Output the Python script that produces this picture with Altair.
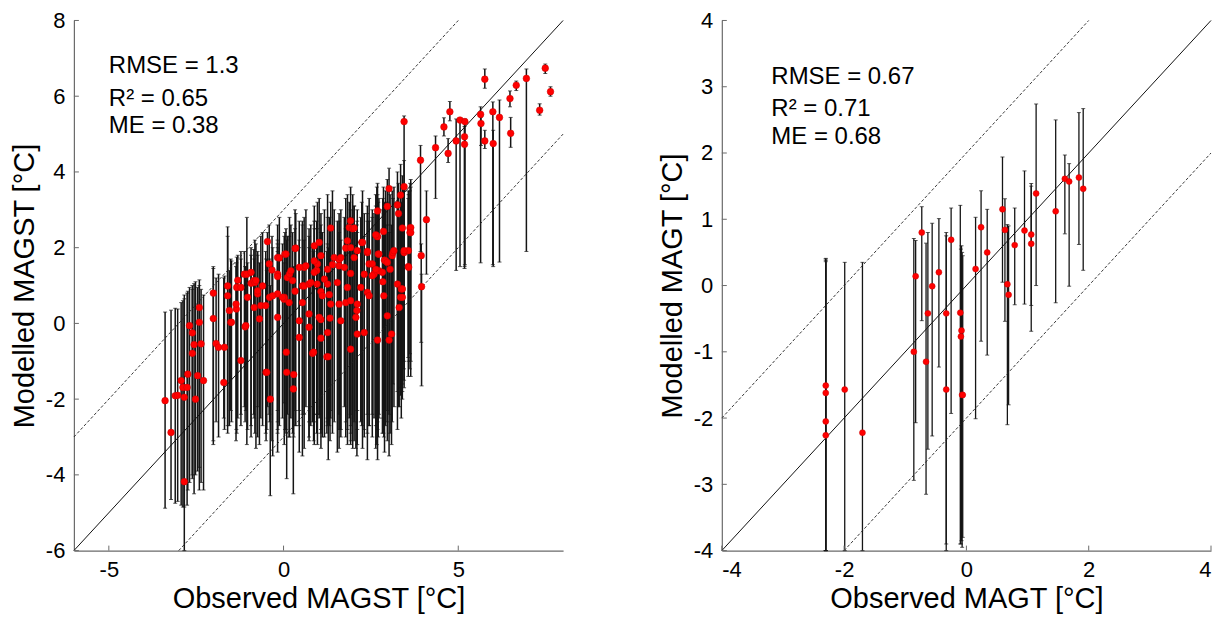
import altair as alt
import pandas as pd

FONT = "Liberation Sans"

# ---------------- Left panel: MAGST (observed, modelled, ensemble low, ensemble high) ----------------
mg_obs = [-3.39, -3.22, -3.10, -3.03, -2.93, -2.88, -2.84, -2.84, -2.76, -2.74,
          -2.69, -2.61, -2.61, -2.56, -2.52, -2.46, -2.41, -2.41, -2.36, -2.29,
          -2.01, -2.01, -1.93, -1.86, -1.71, -1.69, -1.60, -1.60, -1.51, -1.49,
          -1.35, -1.34, -1.31, -1.22, -1.12, -1.10, -1.05, -0.93, -0.93, -0.85,
          -0.82, -0.74, -0.65, -0.50, -0.48, -0.46, -0.40, -0.38, -0.17, -0.17,
          -0.17, -0.12, 0.02, 0.02, 0.04, 0.07, 0.08, 0.09, 0.11, 0.17,
          0.21, 0.28, 0.29, 0.33, 0.33, 0.35, 0.45, 0.54, 0.59, 0.64,
          0.73, 0.83, 0.86, 0.88, 0.95, 0.96, 0.97, 1.02, 1.07, 1.07,
          1.07, 1.17, 1.24, 1.26, 1.28, 1.31, 1.33, 1.35, 1.40, 1.45,
          1.59, 1.59, 1.59, 1.74, 1.78, 1.78, 1.83, 1.83, 1.88, 1.92,
          1.92, 1.92, 1.92, 1.98, 2.02, 2.10, 2.11, 2.11, 2.11, 2.24,
          2.26, 2.40, 2.40, 2.40, 2.45, 2.54, 2.59, 2.67, 2.69, 2.69,
          2.69, 2.71, 2.73, 2.86, 2.84, 2.89, 2.92, 2.97, 2.97, 3.02,
          3.02, 3.05, 3.09, 3.11, 3.13, 3.26, 3.26, 3.29, 3.35, 3.35,
          3.37, 3.40, 3.40, 3.40, 3.45, 3.45, 3.45, 3.57, 3.57, 3.58,
          3.62, 3.62, 3.64, 3.64, 3.92, 3.94, 3.95, 4.09, 4.35, 4.59,
          4.71, 4.76, 4.94, 5.05, 5.18, 5.18, 5.19, 5.64, 5.65, 5.76,
          5.76, 5.99, 6.00, 6.18, 6.48, 6.50, 6.66, 6.95, 7.33, 7.49,
          7.64,
          -0.41, -0.33, -0.17, 0.26, 0.45, 0.59, 0.73, -1.22, -0.79, -0.60,
          -0.74, -0.31, -0.03, -0.51, -1.03, -1.36, -0.84, 0.16, 0.54, -1.55,
          -0.69, -0.17, 0.45, -1.08, 2.64, 2.02, 2.73, 3.16, 1.07, 0.88,
          1.64, 1.26, 0.88, 2.31, 2.64, 2.54, 2.83, 0.78, 1.54, 2.21,
          1.11, 1.35, 1.92, 2.45, 2.87, 1.64, 2.07, 2.97, 3.31, 0.73,
          1.26, 2.31, 1.02, 3.45]
mg_mod = [-2.04, -2.88, -1.91, -1.90, -1.51, -1.69, -1.95, -4.18, -1.69, -1.34,
          -0.06, -0.25, -0.79, -0.56, -2.00, -1.38, 0.42, 0.03, -0.54, -1.51,
          0.80, 0.13, -0.53, -0.63, -1.56, -0.63, 0.99, 0.73, 0.03, 0.03,
          0.38, 0.95, 1.14, -0.98, 1.30, -0.09, 1.30, 1.35, 1.06, 1.13,
          1.08, 0.78, 0.47, -1.29, -1.29, 2.16, 0.69, -2.00, 1.74, 1.30,
          0.78, 1.73, 0.64, 0.69, 1.83, 1.83, -0.76, -1.29, 1.21, 1.30,
          1.39, -1.73, -1.35, 1.98, 0.85, 1.99, -0.37, 0.99, 1.48, 1.52,
          0.25, -0.79, -0.76, 2.05, 1.40, 1.04, 1.57, 2.14, 0.10, -0.39,
          0.84, 1.17, -0.88, 1.04, -0.88, 0.76, 0.14, 2.52, 1.55, 1.74,
          1.69, 1.52, 0.51, 1.48, 1.99, 0.55, 2.18, 0.95, 2.53, 2.71,
          2.00, 1.32, -0.68, 2.50, 2.52, 0.34, 1.92, 0.51, -0.28, 2.14,
          2.14, 1.87, 1.90, 0.82, 1.57, 1.57, 1.30, 2.31, 2.97, 2.29,
          -0.44, 1.83, 1.39, 2.43, 1.10, 1.67, 1.65, 3.09, 1.61, 3.56,
          -0.44, 1.43, -0.28, 1.79, 1.87, 3.13, 1.04, 2.90, 3.39, 0.69,
          0.91, 2.52, 0.69, 0.91, 5.33, 3.61, 1.87, 1.92, 1.50, 1.48,
          2.52, 2.40, 2.53, 2.40, 4.31, 1.79, 0.97, 2.74, 4.64, 5.19,
          4.49, 5.59, 4.82, 5.37, 4.93, 4.73, 5.33, 5.52, 5.28, 6.45,
          4.82, 5.59, 4.75, 5.44, 5.94, 5.02, 6.29, 6.47, 5.63, 6.74,
          6.12,
          1.57, 1.41, 1.24, 1.13, 1.48, 0.99, 1.04, 0.95, 1.13, 0.99,
          0.86, 0.73, 0.69, 0.47, 0.69, 0.51, 0.42, 0.55, 0.55, 0.34,
          0.12, 0.16, 0.07, -0.06, 2.34, 1.74, 1.83, 1.92, 1.79, 1.65,
          1.74, 1.43, 1.35, 1.30, 1.43, 1.26, 1.35, 1.08, 1.08, 0.95,
          0.73, 0.51, 0.60, 0.73, 0.73, 0.07, 0.16, 0.20, 0.42, -0.10,
          -0.24, -0.24, 0.16, 1.92]
mg_lo = [-4.88, -4.65, -4.75, -4.70, -4.80, -4.85, -6.00, -4.85, -4.80, -4.40,
         -4.20, -4.00, -4.10, -4.50, -4.00, -3.90, -4.40, -3.80, -4.20, -4.40,
         -3.10, -3.20, -2.60, -3.00, -2.50, -2.80, -2.70, -2.90, -2.30, -2.60,
         -2.80, -2.90, -2.50, -2.70, -2.20, -2.60, -3.20, -2.70, -3.00, -2.40,
         -2.90, -3.00, -2.50, -3.10, -2.80, -2.20, -2.60, -4.55, -2.30, -2.90,
         -3.40, -2.70, -3.20, -2.10, -2.80, -2.90, -2.80, -4.10, -2.40, -3.00,
         -2.50, -4.50, -3.00, -2.30, -2.70, -2.70, -2.70, -3.50, -2.40, -2.20,
         -3.00, -2.60, -3.10, -2.60, -2.90, -2.40, -3.20, -2.50, -3.30, -2.80,
         -2.20, -3.00, -2.90, -2.50, -3.60, -2.70, -3.10, -2.30, -2.90, -2.60,
         -3.30, -2.40, -2.80, -2.20, -3.00, -2.60, -2.80, -3.20, -2.50, -2.40,
         -3.10, -2.70, -2.90, -3.30, -2.60, -3.50, -2.80, -2.30, -3.20, -2.70,
         -3.30, -2.90, -2.40, -3.60, -2.70, -3.00, -2.50, -3.20, -2.60, -2.80,
         -3.60, -3.00, -2.40, -2.90, -2.50, -3.40, -2.70, -2.30, -3.10, -3.50,
         -2.40, -2.90, -3.20, -2.60, -1.60, -2.80, -1.80, -2.20, -1.90, -1.70,
         -2.50, -1.80, -1.60, -2.00, -1.00, -1.50, -1.20, -0.90, -1.40, -1.00,
         -0.80, -1.20, -1.00, -1.40, 1.90, -0.50, -1.65, 1.30, 3.30, 4.95,
         4.25, 5.35, 1.40, 1.50, 1.50, 1.45, 1.55, 1.60, 4.70, 6.21,
         4.62, 1.55, 1.50, 1.62, 5.72, 4.65, 6.15, 1.90, 5.50, 6.60,
         6.00,
         -2.40, -3.10, -2.60, -2.90, -2.30, -3.30, -2.60, -2.40, -3.30, -2.70,
         -2.20, -3.50, -2.50, -2.90, -2.80, -3.10, -2.50, -3.00, -2.40, -2.70,
         -3.20, -2.80, -3.40, -2.30, -2.70, -3.10, -2.50, -2.20, -2.90, -2.40,
         -3.00, -2.60, -3.20, -2.80, -3.30, -2.40, -2.90, -2.70, -3.40, -2.60,
         -3.00, -2.50, -3.20, -2.70, -3.00, -2.80, -3.30, -2.60, -2.20, -3.10,
         -2.70, -3.00, -2.40, -1.70]
mg_hi = [0.30, 0.35, 0.40, 0.38, 0.55, 0.60, 0.65, 0.75, 0.80, 0.85,
         0.95, 1.00, 0.90, 1.05, 1.10, 0.95, 1.15, 1.00, 0.90, 0.75,
         1.50, 1.45, 1.20, 1.30, 1.20, 1.25, 2.55, 2.30, 1.70, 1.65,
         1.60, 1.75, 1.80, 1.70, 1.90, 1.50, 2.80, 2.00, 1.80, 1.95,
         2.20, 1.90, 2.30, 1.70, 1.40, 2.40, 1.70, 1.00, 2.10, 2.60,
         2.00, 2.80, 2.30, 1.60, 2.40, 2.50, 1.40, 2.20, 2.30, 2.80,
         2.60, 1.10, 1.50, 3.00, 2.50, 2.90, 2.20, 2.70, 2.80, 3.00,
         2.30, 2.00, 1.90, 3.10, 2.70, 2.50, 3.20, 3.30, 2.10, 2.40,
         2.60, 3.00, 1.90, 3.40, 2.00, 2.80, 2.50, 3.20, 3.50, 3.00,
         2.90, 2.70, 2.40, 2.80, 3.30, 2.50, 3.40, 2.60, 3.20, 3.60,
         3.00, 2.80, 2.20, 3.40, 3.10, 2.60, 3.00, 2.70, 2.40, 3.20,
         3.50, 3.10, 2.90, 2.70, 3.30, 3.00, 2.90, 3.60, 3.70, 3.40,
         2.30, 3.20, 3.00, 3.60, 3.30, 3.20, 3.50, 3.80, 3.20, 4.10,
         2.40, 3.40, 2.60, 3.50, 3.30, 4.00, 3.10, 3.70, 4.20, 3.40,
         3.20, 3.90, 3.10, 3.00, 5.48, 4.30, 3.60, 3.50, 3.30, 3.40,
         3.70, 3.50, 3.60, 3.80, 4.70, 2.10, 1.30, 3.50, 4.95, 5.43,
         4.88, 5.86, 5.40, 5.40, 5.30, 5.20, 5.40, 5.72, 5.45, 6.72,
         5.10, 5.85, 5.10, 5.90, 6.14, 5.44, 6.40, 6.72, 5.80, 6.85,
         6.25,
         2.60, 2.30, 2.20, 2.40, 2.70, 2.20, 2.50, 1.90, 2.10, 2.40,
         1.80, 2.00, 2.10, 1.90, 1.60, 1.50, 1.70, 2.30, 2.60, 1.40,
         1.60, 1.90, 2.00, 1.50, 3.40, 3.10, 3.30, 3.60, 2.90, 2.70,
         3.00, 2.80, 2.50, 2.90, 3.10, 2.80, 3.00, 2.60, 2.70, 2.80,
         2.40, 2.50, 2.60, 2.70, 2.90, 2.20, 2.40, 2.60, 2.80, 2.00,
         2.10, 2.30, 2.20, 3.50]

mg_stats = ["RMSE = 1.3", "R\u00b2 = 0.65", "ME = 0.38"]
mg_stats_y = [6.8, 5.93, 5.22]
mg_stats_x = -5.0

# ---------------- Right panel: MAGT ----------------
mt_obs = [-2.30, -2.30, -2.30, -2.30, -1.99, -1.70, -0.86, -0.83, -0.73, -0.66,
          -0.63, -0.56, -0.45, -0.33, -0.33, -0.25, -0.10, -0.08, -0.09, -0.07,
          -0.06, 0.15, 0.24, 0.34, 0.59, 0.63, 0.67, 0.69, 0.79, 0.95,
          1.06, 1.06, 1.14, 1.46, 1.61, 1.68, 1.84, 1.91]
mt_mod = [-1.51, -1.62, -2.05, -2.26, -1.57, -2.22, -1.00, 0.14, 0.80, -1.15,
          -0.42, -0.01, 0.20, -0.42, -1.57, 0.69, -0.41, -0.68, -0.77, -1.65,
          -1.65, 0.25, 0.88, 0.50, 1.15, 0.84, 0.02, -0.14, 0.61, 0.83,
          0.77, 0.63, 1.39, 1.12, 1.61, 1.57, 1.63, 1.46]
mt_lo = [-4.00, -4.00, -4.00, -4.00, -4.00, -4.00, -2.94, -2.07, -0.53, -3.15,
         -2.47, -2.27, -1.23, -4.00, -3.90, -1.93, -3.90, -3.85, -3.90, -3.95,
         -3.80, -2.01, -0.84, -1.05, 0.05, -0.54, -2.10, -1.80, -0.29, -0.28,
         -0.69, -0.30, 0.00, -0.26, 0.78, -0.01, 0.62, 0.23]
mt_hi = [0.41, 0.38, 0.36, 0.40, 0.35, 0.35, 0.71, 0.68, 1.19, 0.64,
         0.80, 0.94, 1.01, 0.80, 0.75, 1.17, 1.21, 0.60, 0.55, 0.50,
         0.45, 1.03, 1.43, 1.15, 1.94, 1.31, 0.92, 0.90, 1.17, 1.73,
         1.54, 1.50, 2.74, 2.50, 1.97, 1.84, 2.61, 2.67]

mt_stats = ["RMSE = 0.67", "R\u00b2 = 0.71", "ME = 0.68"]
mt_stats_y = [3.15, 2.67, 2.24]
mt_stats_x = -3.19

W, H = 490, 531
AX = "#6a6a6a"
BAR = "#151515"


def panel(obs, mod, lo, hi, stats, stats_y, stats_x, dom, off, xticks, yticks,
          xtitle, ytitle, psize, bw):
    df = pd.DataFrame({"obs": obs, "mod": mod, "lo": lo, "hi": hi})
    xs = alt.Scale(domain=dom, nice=False, zero=False)
    ys = alt.Scale(domain=dom, nice=False, zero=False)
    xax = alt.Axis(values=xticks, title=xtitle, labelExpr="'' + datum.value")
    yax = alt.Axis(values=yticks, title=ytitle, labelExpr="'' + datum.value")

    base = alt.Chart(df)
    bars = base.mark_rule(color=BAR, strokeWidth=bw).encode(
        x=alt.X("obs:Q", scale=xs, axis=xax),
        y=alt.Y("lo:Q", scale=ys, axis=yax),
        y2="hi:Q",
    )
    cap_lo = base.mark_tick(orient="horizontal", size=4, thickness=1,
                            color=BAR).encode(
        x=alt.X("obs:Q", scale=xs), y=alt.Y("lo:Q", scale=ys))
    cap_hi = base.mark_tick(orient="horizontal", size=4, thickness=1,
                            color=BAR).encode(
        x=alt.X("obs:Q", scale=xs), y=alt.Y("hi:Q", scale=ys))

    lo_d, hi_d = dom
    solid = pd.DataFrame({"x": [lo_d, hi_d], "y": [lo_d, hi_d]})
    dashed = pd.DataFrame({
        "x": [lo_d, hi_d - off, lo_d + off, hi_d],
        "y": [lo_d + off, hi_d, lo_d, hi_d - off],
        "g": ["a", "a", "b", "b"],
    })
    l1 = alt.Chart(solid).mark_line(color="#111", strokeWidth=1).encode(
        x=alt.X("x:Q", scale=xs), y=alt.Y("y:Q", scale=ys))
    l2 = alt.Chart(dashed).mark_line(color="#222", strokeWidth=0.9,
                                     strokeDash=[3, 2]).encode(
        x=alt.X("x:Q", scale=xs), y=alt.Y("y:Q", scale=ys), detail="g:N")

    pts = base.mark_circle(size=psize, color="#ff0000", opacity=1,
                           stroke="#c80000", strokeWidth=0.5).encode(
        x=alt.X("obs:Q", scale=xs), y=alt.Y("mod:Q", scale=ys))

    tdf = pd.DataFrame({"x": [stats_x] * len(stats), "y": stats_y, "t": stats})
    txt = alt.Chart(tdf).mark_text(align="left", baseline="middle",
                                   font=FONT, fontSize=24, color="#000").encode(
        x=alt.X("x:Q", scale=xs), y=alt.Y("y:Q", scale=ys), text="t:N")

    xt = pd.DataFrame({"v": xticks})
    yt = pd.DataFrame({"v": yticks})
    xtk = alt.Chart(xt).mark_rule(color=AX, strokeWidth=1).encode(
        x=alt.X("v:Q", scale=xs), y=alt.value(H), y2=alt.value(H - 5))
    ytk = alt.Chart(yt).mark_rule(color=AX, strokeWidth=1).encode(
        y=alt.Y("v:Q", scale=ys), x=alt.value(0), x2=alt.value(5))

    return alt.layer(bars, cap_lo, cap_hi, l1, l2, pts, txt, xtk, ytk).properties(
        width=W, height=H)


left = panel(mg_obs, mg_mod, mg_lo, mg_hi, mg_stats, mg_stats_y, mg_stats_x,
             [-6, 8], 3, [-5, 0, 5], [-6, -4, -2, 0, 2, 4, 6, 8],
             "Observed MAGST [\u00b0C]", "Modelled MAGST [\u00b0C]", 45, 1.5)
right = panel(mt_obs, mt_mod, mt_lo, mt_hi, mt_stats, mt_stats_y, mt_stats_x,
              [-4, 4], 2, [-4, -2, 0, 2, 4], [-4, -3, -2, -1, 0, 1, 2, 3, 4],
              "Observed MAGT [\u00b0C]", "Modelled MAGT [\u00b0C]", 36, 1.3)

chart = alt.hconcat(left, right, spacing=93).properties(
    padding={"left": 2, "top": 1, "right": 0, "bottom": 0},
    background="white",
).configure_view(stroke=None).configure_axis(
    grid=False,
    ticks=False,
    domainColor=AX,
    domainWidth=1.2,
    labelFont=FONT,
    labelFontSize=22,
    labelColor="#000",
    labelPadding=9,
    titleFont=FONT,
    titleFontSize=29,
    titleFontWeight="normal",
    titleColor="#000",
).configure_axisX(titlePadding=4).configure_axisY(titlePadding=6)

chart.save("out.html", embed_options={"renderer": "svg", "actions": False})
